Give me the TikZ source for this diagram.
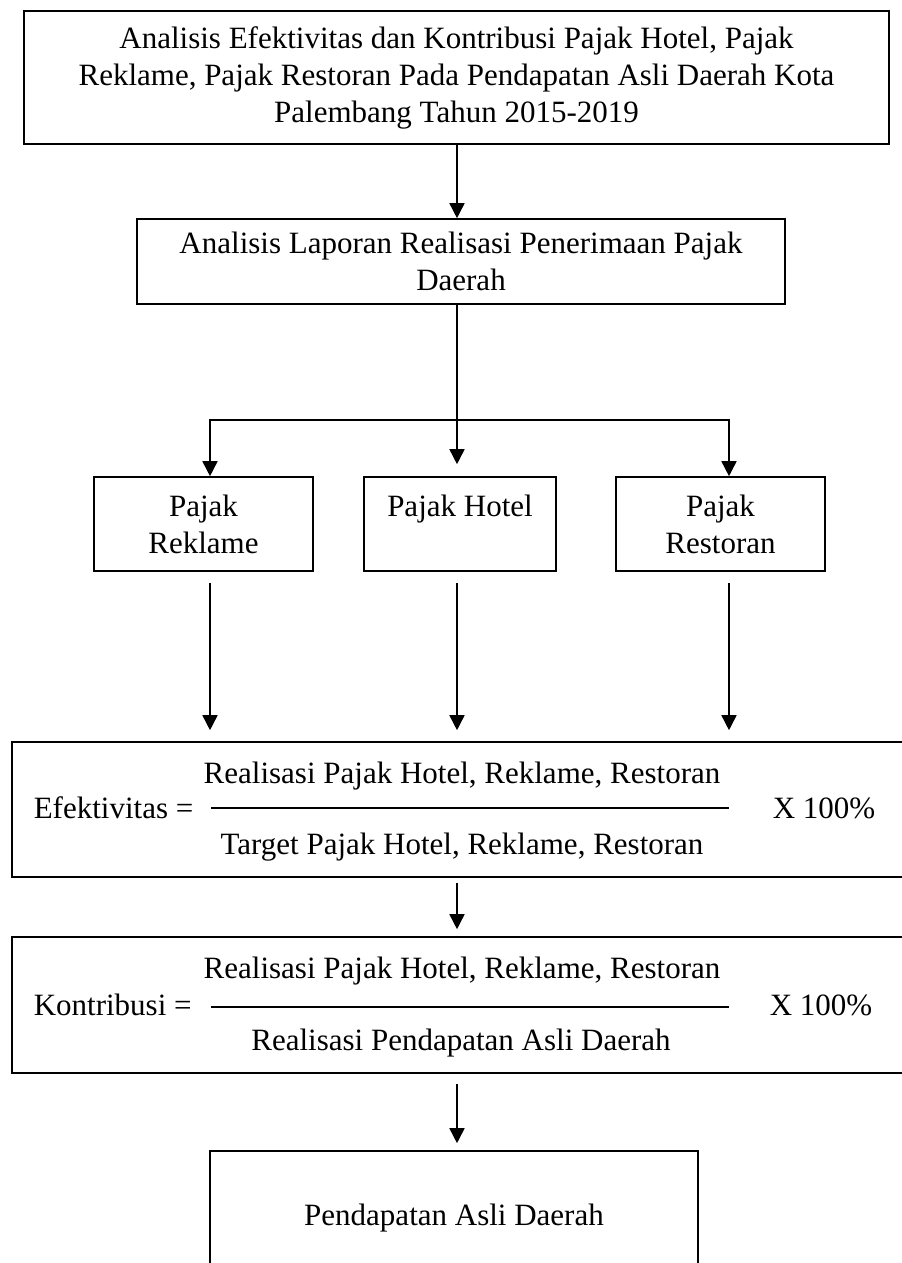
\documentclass[tikz,border=0pt]{standalone}
\usepackage{fontspec}
\setmainfont{Liberation Serif}
\usepackage{tikz}
\usetikzlibrary{shapes, arrows.meta, calc}

\begin{document}
\begin{tikzpicture}[x=0.5pt, y=-0.5pt, line width=0.8pt, >={Triangle[length=7.5pt, width=7.5pt]}]
			\tikzstyle{kotak}=[
			draw,
			rectangle,
			align=center,
			inner sep=0pt,
			font=\fontsize{15.5}{18.5}\selectfont
			]
			\tikzstyle{teks}=[
			rectangle,
			inner sep=0pt,
			font=\fontsize{15.5}{18.5}\selectfont
			]
			\useasboundingbox (0,0) rectangle (901,1263);
			\node[kotak, minimum width=432.5pt, minimum height=66.5pt] (judul) at (456.5,77.5) {Analisis Efektivitas dan Kontribusi Pajak Hotel, Pajak\\ Reklame, Pajak Restoran Pada Pendapatan Asli Daerah Kota\\ Palembang Tahun 2015-2019};
			\node[kotak, minimum width=324pt, minimum height=42.5pt] (laporan) at (461,261.5) {Analisis Laporan Realisasi Penerimaan Pajak\\ Daerah};
			\node[kotak, minimum width=109.5pt, minimum height=47pt] (reklame) at (203.5,524) {Pajak\\ Reklame};
			\node[kotak, minimum width=96pt, minimum height=47pt] (hotel) at (460,524) {Pajak Hotel\\ \mbox{}};
			\node[kotak, minimum width=104.5pt, minimum height=47pt] (restoran) at (720.5,524) {Pajak\\ Restoran};
			\node[kotak, minimum width=450pt, minimum height=67.5pt] (efek) at (462,809.5) {};
			\node[kotak, minimum width=450pt, minimum height=68pt] (kontri) at (462,1005) {};
			\node[kotak, minimum width=244pt, minimum height=67pt] (pad) at (454,1218) {Pendapatan Asli Daerah};
			%
			\node[teks, anchor=west] (efekkiri) at (33,808) {Efektivitas =};
			\node[teks] (efekatas) at (462,776) {Realisasi Pajak Hotel, Reklame, Restoran};
			\node[teks] (efekbawah) at (462,847) {Target Pajak Hotel, Reklame, Restoran};
			\node[teks] (efekkanan) at (824,808) {X 100\%};
			\node[teks, anchor=west] (kontrikiri) at (33,1005) {Kontribusi =};
			\node[teks] (kontriatas) at (462,971) {Realisasi Pajak Hotel, Reklame, Restoran};
			\node[teks] (kontribawah) at (461,1043) {Realisasi Pendapatan Asli Daerah};
			\node[teks] (kontrikanan) at (821,1005) {X 100\%};
			\draw (211,808) -- (729,808);
			\draw (211,1007) -- (729,1007);
			%
			\coordinate (cabang) at (457,420);
			\coordinate (kiri) at (210,420);
			\coordinate (kanan) at (729,420);
			\draw[->] (judul.south -| cabang) -- (laporan.north -| cabang);
			\draw[->, shorten >=6pt] (laporan.south -| cabang) -- (hotel.north -| cabang);
			\draw[->] (cabang) -- (kiri) -- (reklame.north -| kiri);
			\draw[->] (cabang) -- (kanan) -- (restoran.north -| kanan);
			\draw[->, shorten <=5.5pt, shorten >=5.5pt] (reklame.south -| kiri) -- (efek.north -| kiri);
			\draw[->, shorten <=5.5pt, shorten >=5.5pt] (hotel.south -| cabang) -- (efek.north -| cabang);
			\draw[->, shorten <=5.5pt, shorten >=5.5pt] (restoran.south -| kanan) -- (efek.north -| kanan);
			\draw[->, shorten <=2.5pt, shorten >=3.5pt] (efek.south -| cabang) -- (kontri.north -| cabang);
			\draw[->, shorten <=5pt, shorten >=3.5pt] (kontri.south -| cabang) -- (pad.north -| cabang);
		\end{tikzpicture}
\end{document}
